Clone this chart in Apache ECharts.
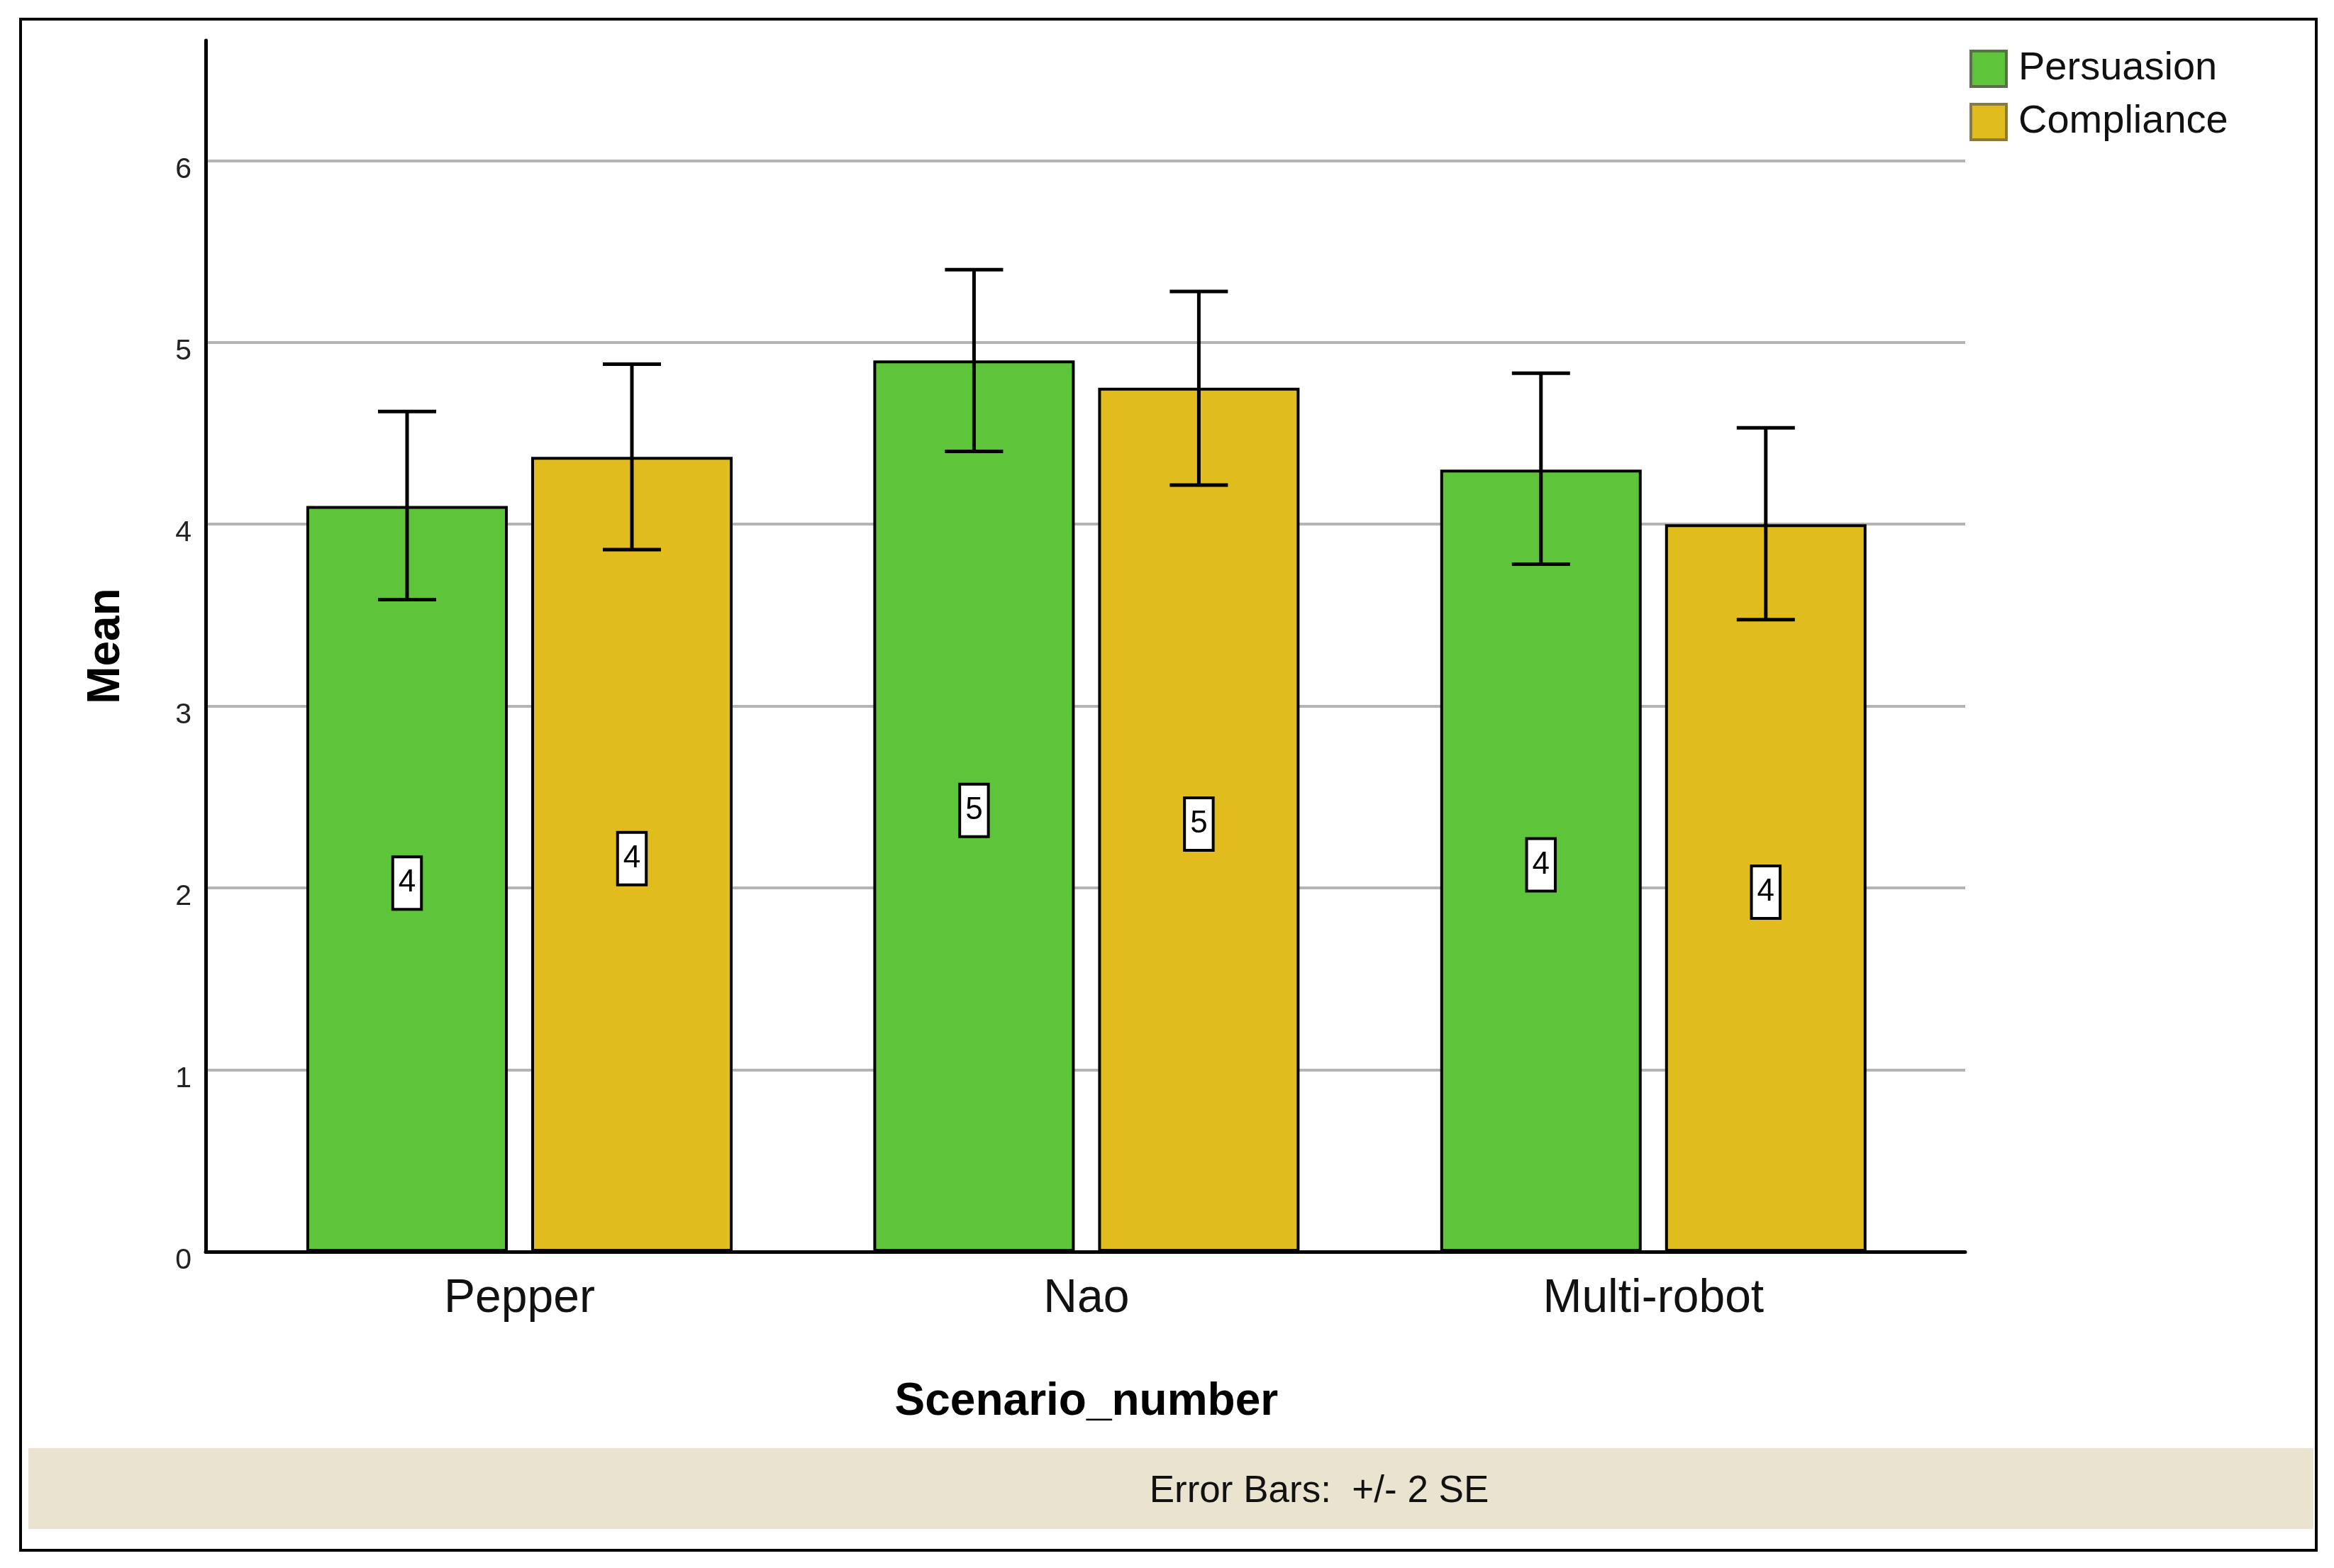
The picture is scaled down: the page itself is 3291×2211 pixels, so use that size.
<!DOCTYPE html>
<html><head><meta charset="utf-8">
<script src="https://cdn.jsdelivr.net/npm/echarts@6/dist/echarts.min.js"></script>
<style>html,body{margin:0;padding:0;background:#fff}#c{width:3291px;height:2211px}</style>
</head><body><div id="c"></div>
<script>
// ---- data ----
const categories = ['Pepper', 'Nao', 'Multi-robot'];
const seriesNames = ['Persuasion', 'Compliance'];
const persuasionMean = [4.10, 4.90, 4.30];
const complianceMean = [4.37, 4.75, 4.00];
const persuasionLow  = [3.585, 4.40, 3.78];
const persuasionHigh = [4.62, 5.40, 4.83];
const complianceLow  = [3.86, 4.215, 3.475];
const complianceHigh = [4.88, 5.28, 4.53];
const yMin = 0, yMax = 6.66, yInterval = 1;
const footnote = 'Error Bars:  +/- 2 SE';

// ---- style ----
const FONT = '"Liberation Sans", Arial, sans-serif';
const GREEN = '#5ec439', YELLOW = '#e0bc1f';
const BAR_W = 284, BAR_GAP_PX = 33;
const ERR_OFF = (BAR_W + BAR_GAP_PX) / 2;
const CAP = 82;

const chart = echarts.init(document.getElementById('c'), null, {renderer: 'canvas'});

function errSeries(name, lows, highs, sign) {
  return {
    type: 'custom', name: name + ' err', xAxisIndex: 1, yAxisIndex: 1, z: 5,
    silent: true,
    data: categories.map((c, i) => [i, lows[i], highs[i]]),
    renderItem: function (params, api) {
      const lo = api.coord([api.value(0), api.value(1)]);
      const hi = api.coord([api.value(0), api.value(2)]);
      const x = lo[0] + sign * ERR_OFF;
      const st = {stroke: '#000', lineWidth: 5};
      return {type: 'group', children: [
        {type: 'line', shape: {x1: x, y1: lo[1], x2: x, y2: hi[1]}, style: st},
        {type: 'line', shape: {x1: x - CAP/2, y1: hi[1], x2: x + CAP/2, y2: hi[1]}, style: st},
        {type: 'line', shape: {x1: x - CAP/2, y1: lo[1], x2: x + CAP/2, y2: lo[1]}, style: st}
      ]};
    }
  };
}

const barLabel = {
  show: true, position: 'inside', offset: [0, 6],
  formatter: p => String(Math.round(p.value)),
  fontFamily: FONT, fontSize: 44, color: '#000',
  backgroundColor: '#fff', borderColor: '#000', borderWidth: 4,
  padding: [13, 6]
};

chart.setOption({
  backgroundColor: '#fff',
  animation: false,
  textStyle: {fontFamily: FONT},
  grid: [
    {left: 290, right: 520, top: 57, bottom: 446},
    {left: 332.8, right: 560, top: 57, bottom: 446}
  ],
  xAxis: [
    {gridIndex: 0, type: 'value', min: 0, max: 1,
     axisLine: {show: true, lineStyle: {color: '#000', width: 5}},
     axisTick: {show: false}, axisLabel: {show: false}, splitLine: {show: false}},
    {gridIndex: 1, type: 'category', data: categories,
     axisLine: {show: false}, axisTick: {show: false},
     axisLabel: {fontFamily: FONT, fontSize: 66, color: '#111', margin: 34},
     name: 'Scenario_number', nameLocation: 'middle', nameGap: 180,
     nameTextStyle: {fontFamily: FONT, fontSize: 64, fontWeight: 'bold', color: '#000'}}
  ],
  yAxis: [
    {gridIndex: 0, type: 'value', min: yMin, max: yMax, interval: yInterval,
     axisLine: {show: true, lineStyle: {color: '#000', width: 5}},
     axisTick: {show: false},
     axisLabel: {fontFamily: FONT, fontSize: 41, color: '#222', margin: 20, showMaxLabel: false,
                 verticalAlign: 'top', lineHeight: 26,
                 formatter: v => (Number.isInteger(v) ? String(v) : '')},
     splitLine: {show: true, showMinLine: false, showMaxLine: false,
                 lineStyle: {color: '#b4b4b4', width: 4}},
     name: 'Mean', nameLocation: 'middle', nameGap: 108, nameRotate: 90,
     nameTextStyle: {fontFamily: FONT, fontSize: 64, fontWeight: 'bold', color: '#000'}},
    {gridIndex: 1, type: 'value', min: yMin, max: yMax, interval: yInterval, show: false,
     splitLine: {show: false}}
  ],
  legend: {
    orient: 'vertical', left: 2777, top: 69, padding: 0,
    itemWidth: 50, itemHeight: 50, itemGap: 19, icon: 'rect',
    textStyle: {fontFamily: FONT, fontSize: 56, color: '#111', padding: [12, 0, 0, 12]},
    data: [
      {name: seriesNames[0], itemStyle: {color: GREEN, borderColor: '#5b7048', borderWidth: 4}},
      {name: seriesNames[1], itemStyle: {color: YELLOW, borderColor: '#8a7a3e', borderWidth: 4}}
    ]
  },
  series: [
    {type: 'bar', name: seriesNames[0], xAxisIndex: 1, yAxisIndex: 1, data: persuasionMean,
     barWidth: BAR_W, barGap: (BAR_GAP_PX / BAR_W * 100).toFixed(2) + '%',
     itemStyle: {color: GREEN, borderColor: '#000', borderWidth: 4}, label: barLabel, z: 3},
    {type: 'bar', name: seriesNames[1], xAxisIndex: 1, yAxisIndex: 1, data: complianceMean,
     barWidth: BAR_W, barGap: (BAR_GAP_PX / BAR_W * 100).toFixed(2) + '%',
     itemStyle: {color: YELLOW, borderColor: '#000', borderWidth: 4}, label: barLabel, z: 3},
    errSeries(seriesNames[0], persuasionLow, persuasionHigh, -1),
    errSeries(seriesNames[1], complianceLow, complianceHigh, 1)
  ],
  graphic: [
    {type: 'rect', z: -1, shape: {x: 29, y: 27, width: 3237, height: 2159},
     style: {fill: 'none', stroke: '#000', lineWidth: 4}},
    {type: 'rect', z: -2, shape: {x: 40, y: 2042, width: 3222, height: 114},
     style: {fill: '#e9e3cf'}},
    {type: 'text', x: 1860, y: 2103,
     style: {text: footnote, fontFamily: FONT, fontSize: 53, fill: '#111',
             align: 'center', verticalAlign: 'middle'}}
  ]
});
</script>
</body></html>
